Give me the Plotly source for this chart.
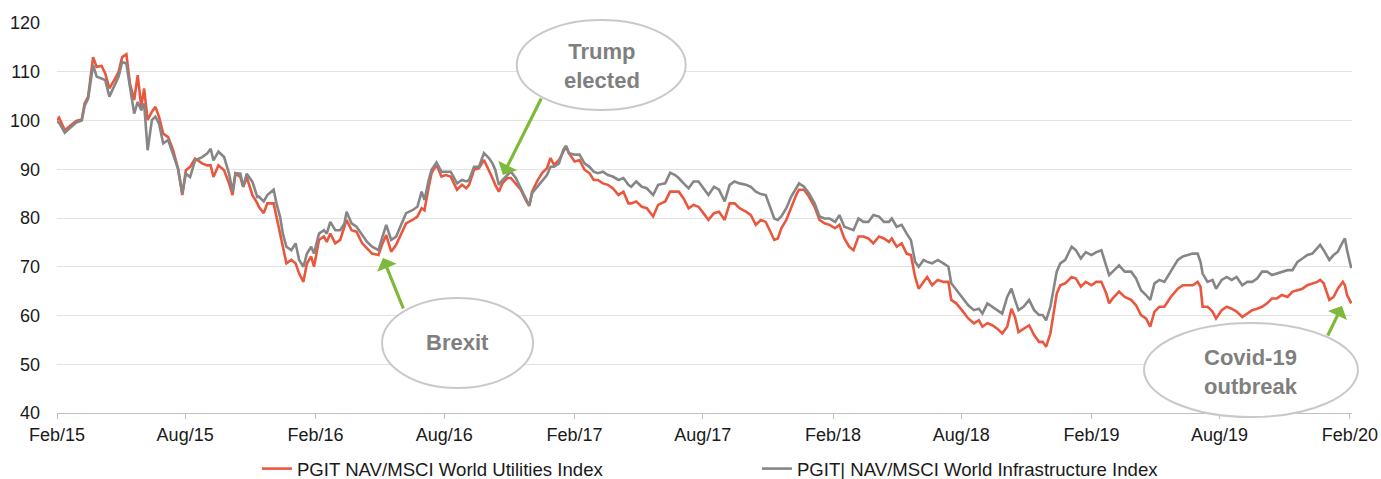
import plotly.graph_objects as go

dates = [
    "2015-02-01", "2015-02-04", "2015-02-12", "2015-02-19", "2015-02-28", "2015-03-08", "2015-03-12", "2015-03-17",
    "2015-03-24", "2015-03-29", "2015-04-05", "2015-04-10", "2015-04-16", "2015-04-24", "2015-04-29", "2015-05-04",
    "2015-05-10", "2015-05-15", "2015-05-21", "2015-05-26", "2015-05-31", "2015-06-04", "2015-06-09", "2015-06-15",
    "2015-06-20", "2015-06-25", "2015-07-01", "2015-07-08", "2015-07-15", "2015-07-22", "2015-07-28", "2015-08-02",
    "2015-08-08", "2015-08-15", "2015-08-25", "2015-09-01", "2015-09-06", "2015-09-10", "2015-09-17", "2015-09-25",
    "2015-10-02", "2015-10-07", "2015-10-11", "2015-10-18", "2015-10-22", "2015-10-27", "2015-11-04", "2015-11-11",
    "2015-11-13", "2015-11-20", "2015-11-25", "2015-12-04", "2015-12-08", "2015-12-13", "2015-12-17", "2015-12-22",
    "2015-12-29", "2016-01-04", "2016-01-09", "2016-01-15", "2016-01-20", "2016-01-26", "2016-01-30", "2016-02-06",
    "2016-02-13", "2016-02-17", "2016-02-22", "2016-02-29", "2016-03-07", "2016-03-13", "2016-03-16", "2016-03-23",
    "2016-03-30", "2016-04-07", "2016-04-14", "2016-04-21", "2016-04-30", "2016-05-05", "2016-05-11", "2016-05-18",
    "2016-05-25", "2016-06-01", "2016-06-08", "2016-06-17", "2016-06-24", "2016-06-30", "2016-07-04", "2016-07-10",
    "2016-07-14", "2016-07-21", "2016-07-28", "2016-08-03", "2016-08-10", "2016-08-19", "2016-08-26", "2016-09-01",
    "2016-09-05", "2016-09-12", "2016-09-19", "2016-09-26", "2016-10-03", "2016-10-08", "2016-10-12", "2016-10-17",
    "2016-10-22", "2016-10-29", "2016-11-03", "2016-11-10", "2016-11-17", "2016-11-25", "2016-11-29", "2016-12-03",
    "2016-12-10", "2016-12-17", "2016-12-24", "2016-12-29", "2017-01-03", "2017-01-10", "2017-01-16", "2017-01-20",
    "2017-01-24", "2017-02-01", "2017-02-08", "2017-02-15", "2017-02-22", "2017-02-28", "2017-03-06", "2017-03-13",
    "2017-03-20", "2017-03-27", "2017-04-04", "2017-04-11", "2017-04-18", "2017-04-22", "2017-04-29", "2017-05-07",
    "2017-05-14", "2017-05-23", "2017-05-30", "2017-06-09", "2017-06-16", "2017-06-23",
    "2017-06-28", "2017-07-05", "2017-07-12", "2017-07-19", "2017-07-26", "2017-08-02", "2017-08-09", "2017-08-17",
    "2017-08-24", "2017-09-01", "2017-09-08", "2017-09-15", "2017-09-22", "2017-10-01", "2017-10-08", "2017-10-15",
    "2017-10-22", "2017-10-29", "2017-11-04", "2017-11-10", "2017-11-15", "2017-11-20", "2017-11-27", "2017-12-04",
    "2017-12-11", "2017-12-15", "2017-12-22", "2017-12-29", "2018-01-06", "2018-01-13", "2018-01-20", "2018-01-27",
    "2018-02-04", "2018-02-10", "2018-02-17", "2018-02-24", "2018-03-02", "2018-03-09", "2018-03-16", "2018-03-23",
    "2018-03-30", "2018-04-07", "2018-04-14",
    "2018-04-21", "2018-04-25", "2018-05-02", "2018-05-09", "2018-05-16", "2018-05-22", "2018-05-28", "2018-06-02",
    "2018-06-09", "2018-06-14", "2018-06-21", "2018-06-29", "2018-07-07", "2018-07-14", "2018-07-18", "2018-07-25",
    "2018-08-02", "2018-08-11", "2018-08-19", "2018-08-26", "2018-08-31", "2018-09-07", "2018-09-14", "2018-09-21",
    "2018-09-28", "2018-10-05", "2018-10-11", "2018-10-16", "2018-10-21", "2018-10-28", "2018-11-05", "2018-11-12",
    "2018-11-19", "2018-11-24", "2018-11-29", "2018-12-05", "2018-12-10", "2018-12-14", "2018-12-19", "2018-12-26",
    "2019-01-04", "2019-01-10", "2019-01-17", "2019-01-24", "2019-02-01", "2019-02-08", "2019-02-15", "2019-02-22",
    "2019-02-26", "2019-03-03", "2019-03-12", "2019-03-20", "2019-03-29", "2019-04-05", "2019-04-12", "2019-04-19",
    "2019-04-25", "2019-05-01", "2019-05-08", "2019-05-15", "2019-05-24", "2019-06-03", "2019-06-10", "2019-06-17",
    "2019-06-24", "2019-07-01", "2019-07-05", "2019-07-08", "2019-07-15", "2019-07-22", "2019-07-27", "2019-08-04",
    "2019-08-11", "2019-08-18", "2019-08-25", "2019-09-02", "2019-09-09", "2019-09-16", "2019-09-23", "2019-09-30",
    "2019-10-07", "2019-10-14", "2019-10-21", "2019-10-28", "2019-11-05", "2019-11-12", "2019-11-19", "2019-11-26",
    "2019-12-03", "2019-12-10", "2019-12-17", "2019-12-21", "2019-12-26", "2020-01-03", "2020-01-09", "2020-01-15",
    "2020-01-22", "2020-01-25", "2020-01-28", "2020-02-03",
]

utilities = [
    100.1, 100.6, 98.0, 98.8, 99.9, 100.2, 103.5, 104.9,
    113.0, 111.0, 111.2, 109.7, 106.6, 108.6, 110.0, 113.0,
    113.6, 107.6, 104.2, 109.3, 102.8, 106.6, 100.1, 101.8,
    102.8, 100.8, 97.3, 96.6, 93.9, 90.1, 84.7, 89.8,
    90.5, 92.2, 91.2, 90.8, 90.8, 88.4, 90.8, 89.8,
    87.1, 84.7, 89.1, 88.4, 86.4, 88.4, 84.7, 83.0,
    82.3, 81.0, 83.0, 83.0, 80.3, 77.5, 74.8, 70.7,
    71.4, 70.7, 68.6, 66.9, 70.7, 72.1, 70.0, 75.5,
    76.2, 75.1, 76.8, 74.8, 75.5, 78.2, 79.6, 77.5,
    77.2, 74.8, 73.8, 72.7, 72.4, 74.5, 76.5, 73.1,
    74.5, 76.8, 78.9, 79.6, 80.3, 82.0, 81.6, 86.4,
    89.2, 90.9, 88.5, 88.8, 88.5, 85.8, 86.8, 86.1,
    86.8, 89.9, 90.2, 91.9, 89.9, 88.2, 86.8, 85.4,
    87.1, 88.2, 88.2, 87.1, 85.8, 83.4, 82.5, 85.4,
    87.5, 89.2, 90.2, 92.3, 90.9, 91.9, 93.6, 94.7,
    93.3, 91.6, 91.9, 89.9, 89.2, 87.8, 87.8, 87.1,
    86.8, 86.1, 84.7, 85.4, 83.0, 83.0, 83.4, 82.3,
    82.0, 80.3, 82.7, 83.4, 85.4, 85.4,
    85.4, 84.0, 82.0, 82.7, 82.3, 81.0, 79.6, 81.0,
    81.3, 79.6, 83.0, 83.0, 82.0, 81.3, 80.6, 78.6,
    79.6, 79.2, 77.2, 75.5, 75.8, 77.9, 79.6, 82.3,
    84.7, 85.8, 85.8, 84.4, 82.3, 79.6, 78.9, 78.6,
    77.9, 78.6, 75.8, 74.1, 73.4, 76.2, 76.2, 75.8,
    74.8, 76.2, 75.8,
    75.1, 75.8, 74.1, 74.8, 72.7, 72.4, 67.9, 65.5,
    66.9, 67.9, 66.2, 67.3, 66.9, 66.9, 63.2, 62.5,
    61.1, 59.4, 58.4, 59.0, 57.7, 58.4, 58.0, 57.3,
    56.3, 57.7, 61.4, 59.7, 56.6, 57.3, 58.0, 56.0,
    54.6, 54.6, 53.6, 56.3, 60.4, 64.5, 66.2, 66.6,
    67.9, 67.6, 65.9, 66.9, 66.2, 66.9, 66.9, 64.5,
    62.5, 63.5, 64.9, 63.8, 63.2, 62.1, 60.1, 59.4,
    57.7, 60.8, 61.8, 61.8, 63.8, 65.5, 66.2, 66.2,
    66.2, 66.9, 65.9, 61.8, 61.8, 60.8, 59.4, 61.1,
    61.8, 61.4, 60.8, 59.7, 60.4, 61.1, 61.4, 61.8,
    62.5, 63.5, 63.5, 64.2, 63.8, 64.9, 65.2, 65.5,
    66.2, 66.6, 66.9, 67.3, 66.6, 63.2, 63.8, 65.5,
    66.9, 66.2, 64.2, 62.5,
]

infrastructure = [
    99.9, 99.5, 97.5, 98.5, 99.6, 100.0, 103.0, 104.5,
    111.4, 109.0, 108.6, 108.3, 104.9, 107.6, 109.0, 112.0,
    111.7, 106.9, 101.4, 103.8, 102.1, 103.5, 93.9, 100.1,
    100.8, 99.4, 95.3, 96.0, 93.2, 90.1, 85.0, 89.1,
    88.4, 91.8, 92.5, 93.2, 94.2, 91.8, 93.6, 92.5,
    89.1, 85.4, 89.2, 89.1, 86.4, 89.1, 87.4, 84.3,
    84.4, 83.4, 84.7, 85.8, 83.0, 80.3, 76.8, 74.1,
    73.4, 74.8, 71.4, 70.0, 72.7, 74.1, 72.7, 76.8,
    77.5, 76.8, 79.2, 77.5, 77.5, 78.9, 81.3, 78.9,
    78.2, 76.5, 75.1, 74.1, 73.4, 75.8, 78.6, 75.5,
    76.2, 78.6, 81.0, 81.6, 82.3, 85.4, 83.7, 87.8,
    89.9, 91.4, 89.5, 89.5, 89.5, 87.1, 87.8, 87.5,
    87.8, 90.5, 90.5, 93.3, 92.3, 91.2, 89.9, 86.8,
    87.8, 88.8, 89.5, 88.2, 86.1, 83.7, 82.5, 85.1,
    86.4, 87.5, 88.8, 90.5, 90.5, 91.2, 94.0, 94.8,
    93.3, 93.0, 93.0, 91.2, 90.5, 89.5, 89.2, 89.5,
    88.8, 88.5, 87.8, 88.2, 86.8, 86.4, 87.5, 86.4,
    86.1, 84.7, 86.8, 87.1, 89.3, 88.8,
    88.2, 87.1, 86.1, 87.5, 87.5, 86.1, 84.7, 86.4,
    85.8, 83.4, 86.8, 87.5, 87.1, 86.8, 86.4, 85.4,
    84.9, 84.7, 82.3, 79.9, 79.6, 80.3, 82.0, 84.4,
    86.1, 87.1, 86.4, 85.1, 83.0, 80.3, 79.9, 79.9,
    79.2, 80.6, 78.2, 77.9, 77.5, 79.9, 79.2, 79.2,
    80.6, 80.3, 79.2,
    79.2, 79.9, 78.2, 78.6, 76.8, 75.5, 71.0, 70.0,
    71.4, 71.0, 70.7, 71.4, 70.7, 70.0, 66.6, 65.2,
    63.8, 62.1, 61.1, 61.4, 60.4, 62.5, 61.8, 61.1,
    60.4, 63.8, 65.5, 63.2, 61.1, 61.8, 63.2, 61.1,
    60.1, 60.1, 59.0, 61.8, 65.9, 69.0, 70.7, 71.4,
    74.1, 73.4, 71.7, 73.0, 72.4, 73.0, 73.4, 70.0,
    68.3, 69.0, 70.3, 69.0, 69.0, 67.6, 65.2, 64.2,
    63.2, 66.6, 67.3, 66.9, 69.0, 71.4, 72.1, 72.4,
    72.7, 72.7, 71.0, 68.6, 66.9, 67.3, 65.5, 67.3,
    67.9, 67.3, 67.9, 66.2, 66.9, 66.9, 67.6, 69.0,
    69.0, 68.3, 68.6, 69.0, 69.3, 69.3, 71.0, 71.7,
    72.4, 72.7, 73.8, 74.5, 73.4, 71.4, 72.4, 73.1,
    75.1, 75.8, 73.4, 69.7,
]

tick_dates = ["2015-02-01", "2015-08-01", "2016-02-01", "2016-08-01", "2017-02-01", "2017-08-01",
              "2018-02-01", "2018-08-01", "2019-02-01", "2019-08-01", "2020-02-01"]
tick_labels = ["Feb/15", "Aug/15", "Feb/16", "Aug/16", "Feb/17", "Aug/17",
               "Feb/18", "Aug/18", "Feb/19", "Aug/19", "Feb/20"]

series_names = ["PGIT NAV/MSCI World Utilities Index", "PGIT| NAV/MSCI World Infrastructure Index"]

FONT = "Arial, 'Liberation Sans', sans-serif"
RED = "#e9573f"
GREY = "#868686"
GREEN = "#7db93a"
TXT = "#7f7f7f"

fig = go.Figure()
fig.add_trace(go.Scatter(x=dates, y=utilities, mode="lines", name=series_names[0],
                         line=dict(color=RED, width=2.6)))
fig.add_trace(go.Scatter(x=dates, y=infrastructure, mode="lines", name=series_names[1],
                         line=dict(color=GREY, width=2.6)))

# callout ellipses (paper coordinates)
ellipses = [
    (0.2510, 0.0641, 0.3676, 0.2949),   # Brexit
    (0.3550, 0.7770, 0.4855, 1.0077),   # Trump
    (0.8394, -0.0103, 1.0046, 0.2308),  # Covid
]
for x0, y0, x1, y1 in ellipses:
    fig.add_shape(type="circle", xref="paper", yref="paper", x0=x0, y0=y0, x1=x1, y1=y1,
                  fillcolor="white", line=dict(color="#c9c9c9", width=2), layer="above")

labels = [
    ("Brexit", 0.3093, 0.1795),
    ("Trump<br>elected", 0.4206, 0.8885),
    ("Covid-19<br>outbreak", 0.9220, 0.1064),
]
for text, x, y in labels:
    fig.add_annotation(text=text, xref="paper", yref="paper", x=x, y=y, showarrow=False,
                       xanchor="center", yanchor="middle", align="center",
                       font=dict(family=FONT, size=22, color=TXT, weight="bold"))

arrows = [
    (0.2517, 0.3974, 21, 52),
    (0.3444, 0.6103, 39, -78),
    (0.9923, 0.2744, -15, 31),
]
for x, y, ax, ay in arrows:
    fig.add_annotation(text="", xref="paper", yref="paper", x=x, y=y, ax=ax, ay=ay,
                       showarrow=True, arrowhead=1, arrowsize=1.1, arrowwidth=3.2,
                       arrowcolor=GREEN, standoff=0)

fig.update_layout(
    width=1381, height=479,
    margin=dict(l=57, r=29, t=23, b=66, autoexpand=False),
    paper_bgcolor="white", plot_bgcolor="white",
    font=dict(family=FONT, size=18, color="#1a1a1a"),
    showlegend=True,
    legend=dict(orientation="h", x=0.1544, xanchor="left", y=-0.1436, yanchor="middle",
                font=dict(size=18.6, color="#1a1a1a"), entrywidth=455, entrywidthmode="pixels",
                bgcolor="rgba(0,0,0,0)"),
    xaxis=dict(type="date", range=["2015-02-01", "2020-02-04"], tickvals=tick_dates, ticktext=tick_labels,
               showgrid=False, zeroline=False, showline=True, linecolor="#bfbfbf", linewidth=1,
               ticks="outside", ticklen=5, tickcolor="#bfbfbf", tickfont=dict(size=18), automargin=False),
    yaxis=dict(range=[40, 120], tick0=40, dtick=10, showgrid=True, gridcolor="#e3e3e3", gridwidth=1,
               zeroline=False, showline=False, ticks="", tickfont=dict(size=18), ticklabelstandoff=16,
               automargin=False),
)

fig.write_html("out.html", config={"displayModeBar": False},
               post_script="document.body.style.margin='0';document.body.style.overflow='hidden';")
